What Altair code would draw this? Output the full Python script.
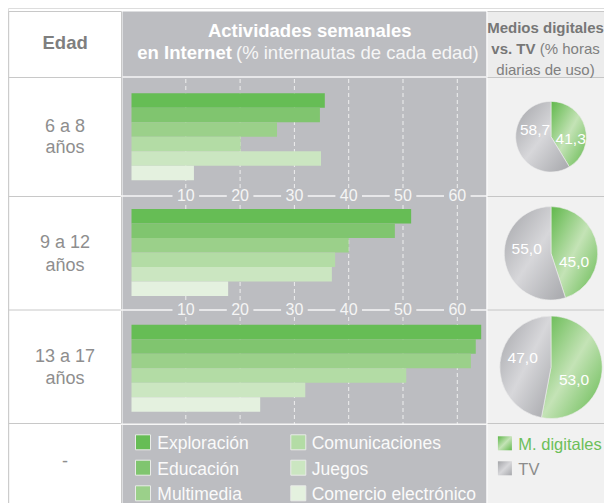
import altair as alt
import pandas as pd

# ---------------- data ----------------
edades = ["6 a 8", "9 a 12", "13 a 17"]
actividades = ["Exploración", "Educación", "Multimedia",
               "Comunicaciones", "Juegos", "Comercio electrónico"]
valores_6_8 = [35.6, 34.7, 26.8, 20.1, 34.9, 11.5]
valores_9_12 = [51.5, 48.5, 40.0, 37.5, 36.9, 17.8]
valores_13_17 = [64.4, 63.4, 62.5, 50.6, 32.0, 23.7]
medios_digitales = [41.3, 45.0, 53.0]
tv = [58.7, 55.0, 47.0]
ticks = [10, 20, 30, 40, 50, 60]
colores = ["#66bd55", "#80c56f", "#9bd08a", "#b3dca5", "#cbe6c1", "#e4f1df"]

FONT = "Liberation Sans"

# ---------------- layout (chart pixels) ----------------
W, H = 596, 495
XL, XC1, XG0, XG1, XC2, XR = 0.7, 113.5, 114.5, 478.3, 479.5, W
YT, YH, YR1, YR2, YR3, YB = 3.5, 69.5, 188.5, 302.0, 415.5, H
AXIS_Y = [188.0, 302.0]
GRAY = "#bcbdc1"

xs = alt.Scale(domain=[0, 60], range=[123.5, 449.3])

# background cells
cells = pd.DataFrame([
    dict(x=XG0, x2=XG1, y=YT, y2=YB, c=GRAY),
    dict(x=XC2, x2=XR, y=YT, y2=YH, c="#ececec"),
    dict(x=XC2, x2=XR, y=YH, y2=YB, c="#f1f1f1"),
])
l_cells = alt.Chart(cells).mark_rect().encode(
    x=alt.X("x:Q", scale=None, axis=None), x2="x2:Q",
    y=alt.Y("y:Q", scale=None, axis=None), y2="y2:Q",
    color=alt.Color("c:N", scale=None))

# table lines
segs = []
lc = "#c8c8c8"
segs.append(dict(x=XL, x2=XC1, y=YT, y2=YT, c=lc, w=1))
segs.append(dict(x=XC2, x2=XR, y=YT, y2=YT, c=lc, w=1))
segs.append(dict(x=XL, x2=XL, y=YT, y2=YB, c=lc, w=1))
segs.append(dict(x=XC1, x2=XC1, y=YT, y2=YB, c=lc, w=1))
for yy in [YH, YR1, YR2, YR3]:
    segs.append(dict(x=XL, x2=XC1, y=yy, y2=yy, c=lc, w=1))
    segs.append(dict(x=XC2, x2=XR, y=yy, y2=yy, c="#c6c6c6", w=1))
segs.append(dict(x=XG0, x2=XG1, y=YH - 0.5, y2=YH - 0.5, c="#f6f6f6", w=1.5))
for yy in AXIS_Y + [416.3]:
    segs.append(dict(x=XG0 - 2, x2=XG1 + 1, y=yy, y2=yy, c="#f6f6f6", w=1.6))
l_segs = alt.Chart(pd.DataFrame(segs)).mark_rule().encode(
    x=alt.X("x:Q", scale=None, axis=None), x2="x2:Q",
    y=alt.Y("y:Q", scale=None, axis=None), y2="y2:Q",
    color=alt.Color("c:N", scale=None),
    strokeWidth=alt.StrokeWidth("w:Q", scale=None))

# dashed grid
l_grid = alt.Chart(pd.DataFrame({"t": ticks})).mark_rule(
    color="#f4f4f4", strokeDash=[4, 3], strokeWidth=1, opacity=0.9).encode(
    x=alt.X("t:Q", scale=xs, axis=None),
    y=alt.value(71), y2=alt.value(416))

# tick labels with gray knock-out
tl = pd.DataFrame([dict(t=t, lo=t - 2.45, hi=t + 2.45, yy=a, y1=a - 7, y2=a + 7)
                   for a in AXIS_Y for t in ticks])
l_knock = alt.Chart(tl).mark_rect(color=GRAY).encode(
    x=alt.X("lo:Q", scale=xs, axis=None), x2="hi:Q",
    y=alt.Y("y1:Q", scale=None, axis=None), y2="y2:Q")
l_ticks = alt.Chart(tl).mark_text(font=FONT, fontSize=16, color="#f5f5f5",
                                  baseline="middle").encode(
    x=alt.X("t:Q", scale=xs, axis=None),
    y=alt.Y("yy:Q", scale=None, axis=None),
    text=alt.Text("t:Q"))

# bars
series = [valores_6_8, valores_9_12, valores_13_17]
rows, slots = [], []
for i, e in enumerate(edades):
    for a, v in zip(actividades, series[i]):
        k = e + "|" + a
        rows.append(dict(edad=e, actividad=a, valor=v, key=k))
        slots.append(k)
    if i < len(edades) - 1:
        slots += [e + "|gap1", e + "|gap2"]
l_bars = alt.Chart(pd.DataFrame(rows)).mark_bar(strokeWidth=0).encode(
    x=alt.X("valor:Q", scale=xs, axis=None),
    y=alt.Y("key:N", axis=None,
            scale=alt.Scale(domain=slots, range=[85.3, 403.7],
                            paddingInner=0, paddingOuter=0)),
    color=alt.Color("actividad:N", legend=None,
                    scale=alt.Scale(domain=actividades, range=colores)))


def txt(recs, size, color, weight="normal", align="center", baseline="alphabetic"):
    return alt.Chart(pd.DataFrame(recs)).mark_text(
        font=FONT, fontSize=size, color=color, fontWeight=weight,
        align=align, baseline=baseline).encode(
        x=alt.X("x:Q", scale=None, axis=None),
        y=alt.Y("y:Q", scale=None, axis=None),
        text="t:N")


CX1 = (XL + XC1) / 2
row_base = [(123.7, 145.3), (240.3, 262.7), (353.5, 375.5)]
lab = []
for e, (b1, b2) in zip(edades, row_base):
    lab.append(dict(x=CX1, y=b1, t=e))
    lab.append(dict(x=CX1, y=b2, t="años"))
l_rowlab = txt(lab, 18, "#8e8e8e")
l_dash = txt([dict(x=CX1, y=454, t="-")], 18, "#8e8e8e", baseline="middle")

# headers
l_h1 = txt([dict(x=CX1, y=40.5, t="Edad")], 18.5, "#7f7f7f", weight="bold")
l_h2 = txt([dict(x=301.7, y=29, t="Actividades semanales")], 18.5, "#ffffff", weight="bold")
l_h3 = txt([dict(x=129.3, y=50.7, t="en Internet")], 18.5, "#ffffff", weight="bold", align="left")
l_h4 = txt([dict(x=228, y=50.7, t="(% internautas de cada edad)")], 18.5, "#f6f6f6", align="left")
CX3 = 537.5
SPLIT = 527.5
l_h5 = txt([dict(x=CX3, y=24.7, t="Medios digitales")], 15, "#777777", weight="bold")
l_h6 = txt([dict(x=SPLIT, y=46.3, t="vs. TV")], 15, "#777777", weight="bold", align="right")
l_h7 = txt([dict(x=SPLIT + 4.2, y=46.3, t="(% horas")], 15, "#808080", align="left")
l_h8 = txt([dict(x=CX3, y=67, t="diarias de uso)")], 15, "#808080")

# pies
G_GREEN = {"gradient": "linear", "x1": 0, "y1": 0, "x2": 1, "y2": 1,
           "stops": [{"offset": 0, "color": "#5fb74a"},
                     {"offset": 0.5, "color": "#c4e3b6"},
                     {"offset": 1, "color": "#63b94e"}]}
G_GRAY = {"gradient": "linear", "x1": 0, "y1": 0, "x2": 1, "y2": 1,
          "stops": [{"offset": 0, "color": "#a3a4a8"},
                    {"offset": 0.5, "color": "#d7d7da"},
                    {"offset": 1, "color": "#a6a7ab"}]}
pie_cx = 543
pie_cy = [128.7, 245.3, 359.3]
pie_r = [35.3, 46.7, 51.2]
lab_off = [((19.7, 2.6), (-16.0, -6.7)),
           ((23.0, 8.4), (-24.3, -4.0)),
           ((23.0, 12.7), (-28.3, -9.0))]
pies, plabs = [], []
for i in range(3):
    d = pd.DataFrame({"tipo": ["M. digitales", "TV"],
                      "v": [medios_digitales[i], tv[i]], "o": [0, 1]})
    pies.append(alt.Chart(d).mark_arc(radius=pie_r[i], stroke="#ededed",
                                      strokeWidth=0.6).encode(
        theta=alt.Theta("v:Q", stack=True),
        order=alt.Order("o:Q"),
        x=alt.value(pie_cx), y=alt.value(pie_cy[i]),
        color=alt.condition("datum.tipo == 'M. digitales'",
                            alt.value(G_GREEN), alt.value(G_GRAY))))
    (mx, my), (tx, ty) = lab_off[i]
    fmt = lambda v: f"{v:.1f}".replace(".", ",")
    plabs.append(dict(x=pie_cx + mx, y=pie_cy[i] + my, t=fmt(medios_digitales[i])))
    plabs.append(dict(x=pie_cx + tx, y=pie_cy[i] + ty, t=fmt(tv[i])))
l_plabs = txt(plabs, 15.5, "#ffffff", baseline="middle")

# legend (activities)
leg = []
for j, a in enumerate(actividades):
    col, row = j // 3, j % 3
    leg.append(dict(sx=[135, 290.3][col], sy=[434.3, 459.7, 485.3][row],
                    x=[149.3, 303.7][col], y=[441, 466.5, 492][row], t=a))
legdf = pd.DataFrame(leg)
l_legsq = alt.Chart(legdf).mark_square(size=225, opacity=1, stroke="#e9ebe8",
                                       strokeWidth=1).encode(
    x=alt.X("sx:Q", scale=None, axis=None),
    y=alt.Y("sy:Q", scale=None, axis=None),
    color=alt.Color("t:N", legend=None,
                    scale=alt.Scale(domain=actividades, range=colores)))
l_legtx = txt(leg, 17.5, "#fafafa", align="left")

# legend (pies)
leg2 = pd.DataFrame({"tipo": ["M. digitales", "TV"], "sx": [496.9, 496.9],
                     "sy": [435.3, 460.3]})
l_leg2sq = alt.Chart(leg2).mark_square(size=196, opacity=1, strokeWidth=0).encode(
    x=alt.X("sx:Q", scale=None, axis=None),
    y=alt.Y("sy:Q", scale=None, axis=None),
    color=alt.condition("datum.tipo == 'M. digitales'",
                        alt.value(G_GREEN), alt.value(G_GRAY)))
l_leg2a = txt([dict(x=510.3, y=442, t="M. digitales")], 16.5, "#6cbf5a", align="left")
l_leg2b = txt([dict(x=510.3, y=467, t="TV")], 16.5, "#8c8c8c", align="left")

layers = [l_cells, l_grid, l_bars, l_segs, l_knock, l_ticks, l_rowlab, l_dash,
          l_h1, l_h2, l_h3, l_h4, l_h5, l_h6, l_h7, l_h8] + pies + [
    l_plabs, l_legsq, l_legtx, l_leg2sq, l_leg2a, l_leg2b]

chart = alt.layer(*layers).resolve_scale(
    x="independent", y="independent", color="independent", theta="independent"
).properties(
    width=W, height=H, padding=0,
    autosize=alt.AutoSizeParams(type="none"), background="white"
).configure_view(stroke=None).configure(font=FONT)

chart.save("out.html", embed_options={"renderer": "svg", "actions": False})
